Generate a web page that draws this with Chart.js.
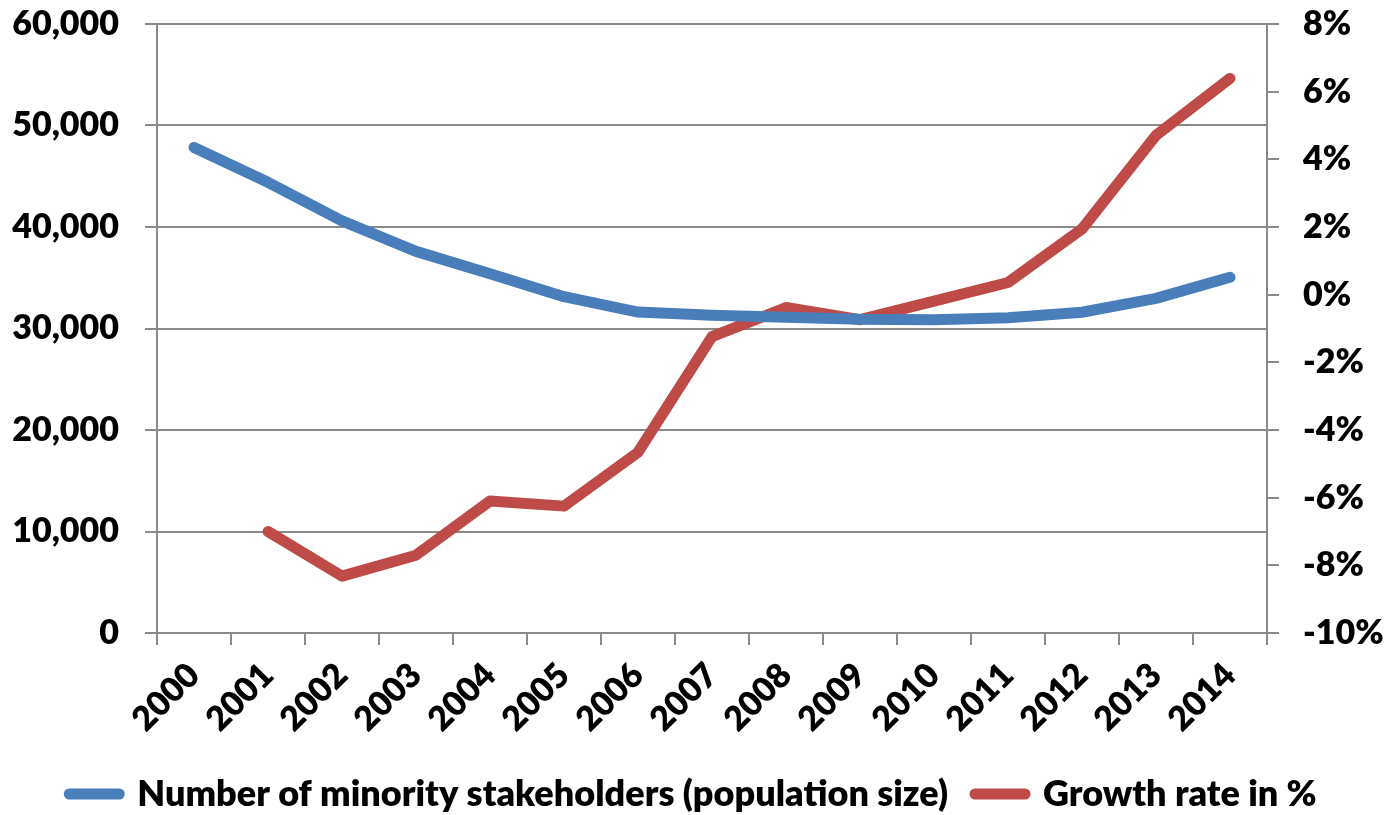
<!DOCTYPE html>
<html>
<head>
<meta charset="utf-8">
<script src="https://cdn.jsdelivr.net/npm/chart.js@4/dist/chart.umd.min.js"></script>
<style>
    html, body { margin: 0; padding: 0; background: #fff; }
    #wrap { width: 1386px; height: 815px; position: relative; }
</style>
</head>
<body>
<div id="wrap"><canvas id="chart"></canvas></div>
<script>
// Chart data
const years = ["2000", "2001", "2002", "2003", "2004", "2005", "2006", "2007",
    "2008", "2009", "2010", "2011", "2012", "2013", "2014"];
const stakeholders = [47840, 44400, 40600, 37600, 35400, 33130, 31620, 31300,
    31120, 30900, 30870, 31050, 31600, 32970, 35050];
const growthRate = [null, -7.0, -8.32, -7.7, -6.1, -6.25, -4.66, -1.24,
    -0.38, -0.74, -0.19, 0.36, 1.94, 4.71, 6.39];
const seriesNames = ["Number of minority stakeholders (population size)", "Growth rate in %"];

const FONT = "Lato";
const GRID = "#8a8a8a";

/**
 * Builds one line dataset
 * @param {String} label legend text
 * @param {Array} data values
 * @param {String} color line colour
 * @param {String} axis y axis id
 */
function _lineDataset(label, data, color, axis) {
    return {
        label: label,
        data: data,
        yAxisID: axis,
        borderColor: color,
        backgroundColor: color,
        borderWidth: 11,
        borderCapStyle: "round",
        borderJoinStyle: "round",
        pointRadius: 0,
        pointHoverRadius: 0,
        tension: 0,
        fill: false,
    };
}

/**
 * Fixes a y axis box size so the plot area lands where the reference has it
 * @param {Number} width axis width in px
 */
function _fixY(width) {
    return (scale) => {
        scale.width = width;
        scale.paddingTop = 0;
        scale.paddingBottom = 0;
    };
}

const tickFont = { family: FONT, size: 34, weight: "800" };

new Chart(document.getElementById("chart"), {
    type: "line",
    data: {
        labels: years,
        datasets: [
            _lineDataset(seriesNames[0], stakeholders, "#4a7ebb", "yLeft"),
            _lineDataset(seriesNames[1], growthRate, "#be4b48", "yRight"),
        ],
    },
    options: {
        responsive: true,
        maintainAspectRatio: false,
        animation: false,
        layout: { padding: { left: 0, right: 0, top: 24, bottom: 0 } },
        scales: {
            x: {
                offset: true,
                grid: { offset: true, drawOnChartArea: false, color: GRID, lineWidth: 2, tickLength: 12 },
                border: { color: GRID, width: 2 },
                ticks: { color: "#000", font: tickFont, autoSkip: false, maxRotation: 45, minRotation: 45, padding: 10 },
                afterFit: (scale) => {
                    scale.height = 116;
                    scale.paddingLeft = 0;
                    scale.paddingRight = 0;
                },
            },
            yLeft: {
                position: "left",
                min: 0,
                max: 60000,
                grid: { color: GRID, lineWidth: 2, tickLength: 12 },
                border: { color: GRID, width: 2 },
                ticks: {
                    stepSize: 10000,
                    color: "#000",
                    font: tickFont,
                    padding: 26,
                    callback: (v) => v.toLocaleString("en-US"),
                },
                afterFit: _fixY(157),
            },
            yRight: {
                position: "right",
                min: -10,
                max: 8,
                grid: { drawOnChartArea: false, color: GRID, lineWidth: 2, tickLength: 12 },
                border: { color: GRID, width: 2 },
                ticks: {
                    stepSize: 2,
                    color: "#000",
                    font: tickFont,
                    padding: 24,
                    callback: (v) => `${v}%`,
                },
                afterFit: _fixY(119),
            },
        },
        plugins: {
            tooltip: { enabled: false },
            legend: {
                position: "bottom",
                maxHeight: 66,
                labels: {
                    color: "#000",
                    font: { family: FONT, size: 36, weight: "800" },
                    usePointStyle: true,
                    pointStyle: "line",
                    pointStyleWidth: 50,
                    padding: 27,
                    // round line ends like the series lines
                    generateLabels: (chart) =>
                        Chart.defaults.plugins.legend.labels
                            .generateLabels(chart)
                            .map((item) => ({ ...item, lineCap: "round" })),
                },
            },
        },
    },
});
</script>
</body>
</html>
